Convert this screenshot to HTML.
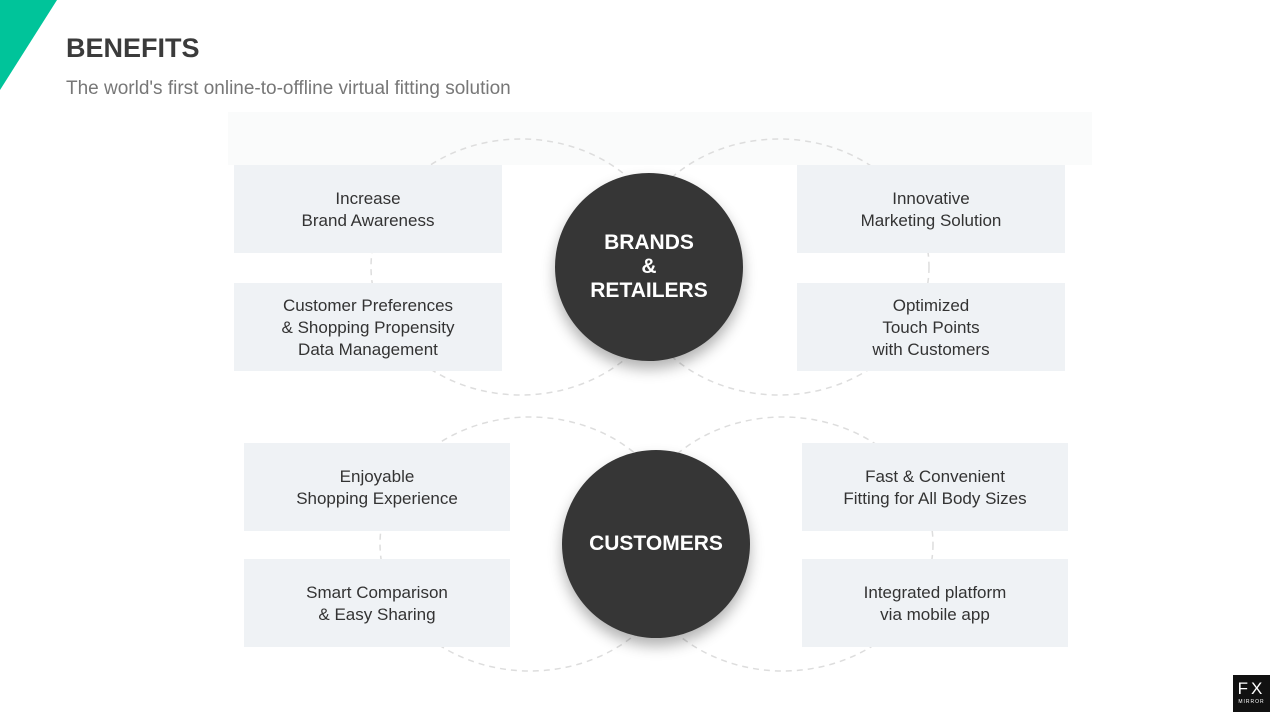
<!DOCTYPE html>
<html><head><style>
body{margin:0;width:1280px;height:720px;background:#fff;position:relative;overflow:hidden;font-family:"Liberation Sans",sans-serif}
.b{position:absolute;background:#eff2f5;display:flex;align-items:center;justify-content:center;text-align:center;font-size:17px;line-height:22px;color:#333;padding-top:2px;box-sizing:border-box}
.c{position:absolute;border-radius:50%;background:#363636;color:#fff;font-weight:bold;font-size:21px;line-height:24px;display:flex;align-items:center;justify-content:center;text-align:center;box-shadow:0 8px 14px rgba(0,0,0,.3)}
</style></head><body>
<svg width="1280" height="720" style="position:absolute;left:0;top:0">
<polygon points="0,0 57,0 0,90" fill="#00c49a"/>
<rect x="228" y="112" width="864" height="53" fill="#fafbfb"/>
<g fill="none" stroke="#ddd" stroke-width="1.5" stroke-dasharray="6,5">
<ellipse cx="521" cy="267" rx="150" ry="128"/>
<ellipse cx="779" cy="267" rx="150" ry="128"/>
<ellipse cx="530" cy="544" rx="150" ry="127"/>
<ellipse cx="783" cy="544" rx="150" ry="127"/>
</g>
</svg>
<div style="position:absolute;left:66px;top:33px;font-size:27px;font-weight:bold;color:#3b3b3b">BENEFITS</div>
<div style="position:absolute;left:66px;top:78px;font-size:19px;color:#777">The world's first online-to-offline virtual fitting solution</div>
<div class="b" style="left:234px;top:165px;width:268px;height:88px">Increase<br>Brand Awareness</div>
<div class="b" style="left:234px;top:283px;width:268px;height:88px">Customer Preferences<br>&amp; Shopping Propensity<br>Data Management</div>
<div class="b" style="left:797px;top:165px;width:268px;height:88px">Innovative<br>Marketing Solution</div>
<div class="b" style="left:797px;top:283px;width:268px;height:88px">Optimized<br>Touch Points<br>with Customers</div>
<div class="b" style="left:244px;top:443px;width:266px;height:88px">Enjoyable<br>Shopping Experience</div>
<div class="b" style="left:244px;top:559px;width:266px;height:88px">Smart Comparison<br>&amp; Easy Sharing</div>
<div class="b" style="left:802px;top:443px;width:266px;height:88px">Fast &amp; Convenient<br>Fitting for All Body Sizes</div>
<div class="b" style="left:802px;top:559px;width:266px;height:88px">Integrated platform<br>via mobile app</div>
<div class="c" style="left:555px;top:173px;width:188px;height:188px">BRANDS<br>&amp;<br>RETAILERS</div>
<div class="c" style="left:562px;top:450px;width:188px;height:188px">CUSTOMERS</div>
<div style="position:absolute;left:1233px;top:675px;width:37px;height:37px;background:#111;color:#fff;text-align:center">
<div style="font-size:17px;letter-spacing:3px;line-height:20px;margin-top:4px">FX</div>
<div style="font-size:5px;letter-spacing:1px;line-height:6px">MIRROR</div></div>
</body></html>
